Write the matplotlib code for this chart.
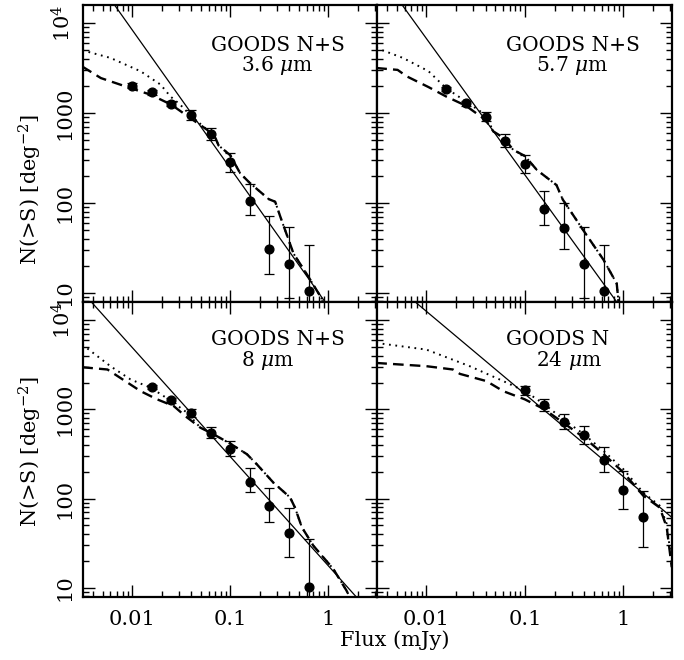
import numpy as np
import matplotlib
matplotlib.use("Agg")
import matplotlib.pyplot as plt
from matplotlib.ticker import LogLocator, NullFormatter, FixedLocator

plt.rcParams['font.family'] = ['DejaVu Serif']
plt.rcParams['mathtext.fontset'] = 'dejavuserif'

# ---- data ----
# 3.6 micron, GOODS N+S
flux36 = [0.01, 0.0158, 0.0251, 0.0398, 0.0631, 0.1, 0.158, 0.251, 0.398, 0.631]
n36 = [2020, 1700, 1270, 950, 592, 284, 104, 31, 20.7, 10.4]
lo36 = [1900, 1600, 1190, 840, 500, 222, 73, 16, 8.7, 4]
hi36 = [2150, 1800, 1360, 1070, 690, 357, 161, 72, 54, 34]
pl36_x = [0.005, 1.0]
pl36_y = [24600, 7.0]
dot36_x = [0.0031, 0.006, 0.0122, 0.0195, 0.0245, 0.0309, 0.0389, 0.058, 0.0708, 0.0759,
           0.1, 0.126, 0.157, 0.247, 0.287, 0.324, 0.441, 0.627, 0.855, 0.91]
dot36_y = [5010, 4120, 2920, 2075, 1535, 1240, 955, 652, 525, 437,
           339, 214, 168, 110, 103, 70, 27.3, 15, 8.6, 6.3]
dash36_x = [0.0031, 0.0048, 0.0096, 0.0155, 0.0251, 0.0363, 0.058, 0.0708, 0.0759,
            0.1, 0.126, 0.157, 0.247, 0.287, 0.324, 0.441, 0.627, 0.855, 0.91]
dash36_y = [3300, 2455, 1900, 1600, 1240, 933, 652, 525, 437,
            339, 214, 168, 110, 103, 70, 27.3, 15, 8.6, 6.3]

# 5.7 micron, GOODS N+S
flux57 = [0.0158, 0.0251, 0.0398, 0.0631, 0.1, 0.158, 0.251, 0.398, 0.631]
n57 = [1850, 1283, 910, 486, 274, 84.5, 52, 20.7, 10.4]
lo57 = [1760, 1210, 820, 421, 217, 56, 31, 8.7, 4]
hi57 = [1950, 1370, 1020, 578, 342, 137, 99, 54, 34]
pl57_x = [0.005, 1.0]
pl57_y = [19400, 6.2]
dot57_x = [0.0031, 0.0058, 0.0105, 0.0158, 0.0251, 0.0398, 0.0479, 0.0617, 0.0759,
           0.1, 0.132, 0.209, 0.242, 0.389, 0.631, 0.855, 0.89, 0.9]
dot57_y = [5320, 4110, 2930, 1900, 1350, 955, 624, 525, 390,
           333, 233, 158, 109, 50, 23, 12.6, 7.9, 5]
dash57_x = [0.0031, 0.0051, 0.0063, 0.0105, 0.0158, 0.0251, 0.0398, 0.0479, 0.0617, 0.0759,
            0.1, 0.132, 0.209, 0.242, 0.389, 0.631, 0.855, 0.89, 0.9]
dash57_y = [3180, 3030, 2570, 1950, 1535, 1210, 840, 624, 525, 390,
            333, 233, 158, 109, 50, 23, 12.6, 7.9, 5]

# 8 micron, GOODS N+S
flux80 = [0.0158, 0.0251, 0.0398, 0.0631, 0.1, 0.158, 0.251, 0.398, 0.631]
n80 = [1790, 1262, 902, 548, 360, 155, 82, 41, 10.3]
lo80 = [1700, 1190, 830, 474, 300, 117, 55, 22, 4]
hi80 = [1890, 1340, 1000, 632, 443, 219, 133, 79, 35]
pl80_x = [0.0035, 2.2]
pl80_y = [17900, 6.7]
dot80_x = [0.0031, 0.006, 0.0096, 0.0155, 0.0245, 0.0363, 0.0495, 0.0676, 0.1, 0.148,
           0.186, 0.275, 0.407, 0.457, 0.537, 0.703, 1.12, 1.53, 1.8]
dot80_y = [5330, 3050, 2170, 1745, 1260, 918, 624, 525, 413, 314,
           243, 151, 103, 79, 47.6, 29.6, 16.3, 9.3, 6.5]
dash80_x = [0.0031, 0.0056, 0.0122, 0.018, 0.0265, 0.0348, 0.0495, 0.0676, 0.1, 0.148,
            0.186, 0.275, 0.407, 0.457, 0.537, 0.703, 1.12, 1.53, 1.8]
dash80_y = [2970, 2800, 1600, 1294, 1090, 841, 624, 525, 413, 314,
            243, 151, 103, 79, 47.6, 29.6, 16.3, 9.3, 6.5]

# 24 micron, GOODS N
flux24 = [0.1, 0.158, 0.251, 0.398, 0.631, 1.0, 1.585]
n24 = [1630, 1109, 728, 516, 271, 124, 61.5]
lo24 = [1435, 957, 608, 413, 196, 76, 28.4]
hi24 = [1852, 1294, 880, 652, 380, 204, 122]
pl24_x = [0.007, 3.2]
pl24_y = [17500, 59.7]
dot24_x = [0.0031, 0.01, 0.0275, 0.0603, 0.1, 0.158, 0.245, 0.398, 0.631, 1.0,
           1.585, 2.34, 2.75, 3.09]
dot24_y = [5560, 4680, 3050, 2075, 1600, 1138, 773, 525, 340, 213,
           117, 83, 52, 18.6]
dash24_x = [0.0031, 0.01, 0.0186, 0.0219, 0.0407, 0.0603, 0.1, 0.158, 0.245, 0.398,
            0.631, 1.0, 1.585, 2.34, 2.75, 3.09]
dash24_y = [3315, 3050, 2800, 2500, 2075, 1600, 1294, 1000, 708, 482,
            314, 196, 108, 79, 47.5, 17]

line1 = ["GOODS N+S", "GOODS N+S", "GOODS N+S", "GOODS N"]
line2 = ["3.6 $\\mu$m", "5.7 $\\mu$m", "8 $\\mu$m", "24 $\\mu$m"]

panels = [
    (flux36, n36, lo36, hi36, pl36_x, pl36_y, dot36_x, dot36_y, dash36_x, dash36_y),
    (flux57, n57, lo57, hi57, pl57_x, pl57_y, dot57_x, dot57_y, dash57_x, dash57_y),
    (flux80, n80, lo80, hi80, pl80_x, pl80_y, dot80_x, dot80_y, dash80_x, dash80_y),
    (flux24, n24, lo24, hi24, pl24_x, pl24_y, dot24_x, dot24_y, dash24_x, dash24_y),
]

W, H = 684, 660
fig = plt.figure(figsize=(W / 100, H / 100), dpi=100)

# panel boxes in pixels: (left, top, right, bottom)
boxes = [(82.7, 5, 376.7, 302), (376.7, 5, 672, 302),
         (82.7, 302, 376.7, 597), (376.7, 302, 672, 597)]
txt_x = [(0.435, 0.537), (0.438, 0.539), (0.435, 0.537), (0.438, 0.539)]
txt_y = [(0.845, 0.777), (0.845, 0.777), (0.853, 0.782), (0.853, 0.782)]

for i, (box, p) in enumerate(zip(boxes, panels)):
    l, t, r, b = box
    ax = fig.add_axes([l / W, 1 - b / H, (r - l) / W, (b - t) / H])
    fx, n, lo, hi, plx, ply, dx, dy, sx, sy = p
    n = np.array(n)
    yerr = [n - np.array(lo), np.array(hi) - n]

    ax.plot(plx, ply, color='k', lw=0.9)
    ax.plot(dx, dy, color='k', lw=1.4, linestyle=(0, (0.9, 2.4)))
    ax.plot(sx, sy, color='k', lw=1.7, linestyle=(0, (4.5, 2.6)))
    ax.errorbar(fx, n, yerr=yerr, fmt='o', color='k', ms=6.3,
                elinewidth=0.9, capsize=3.5, capthick=0.9)

    ax.set_xscale('log')
    ax.set_yscale('log')
    ax.set_xlim(0.00313, 3.11)
    ax.set_ylim(7.87, 16000)

    ax.xaxis.set_major_locator(FixedLocator([0.01, 0.1, 1]))
    ax.xaxis.set_minor_locator(LogLocator(base=10, subs=np.arange(2, 10), numticks=20))
    ax.yaxis.set_major_locator(FixedLocator([10, 100, 1000, 10000]))
    ax.yaxis.set_minor_locator(LogLocator(base=10, subs=np.arange(2, 10), numticks=20))
    ax.xaxis.set_minor_formatter(NullFormatter())
    ax.yaxis.set_minor_formatter(NullFormatter())

    ax.tick_params(which='both', direction='in', top=True, right=True, width=1.0)
    ax.tick_params(which='major', length=8.5)
    ax.tick_params(which='minor', length=4.5)
    ax.tick_params(axis='x', which='major', pad=9.5, labelsize=15)
    ax.tick_params(axis='y', which='major', pad=6, labelsize=15)
    for s in ax.spines.values():
        s.set_linewidth(1.6)

    if i >= 2:
        ax.set_xticklabels(["0.01", "0.1", "1"])
    else:
        ax.set_xticklabels([])
    if i % 2 == 0:
        ax.set_yticklabels(["10", "100", "1000", "$10^4$"], rotation=90, va='center')
    else:
        ax.set_yticklabels([])

    ax.text(txt_x[i][0], txt_y[i][0], line1[i], transform=ax.transAxes,
            ha='left', va='baseline', fontsize=14.5)
    ax.text(txt_x[i][1], txt_y[i][1], line2[i], transform=ax.transAxes,
            ha='left', va='baseline', fontsize=14.5)

fig.text(30 / W, 1 - 190 / H, "N(>S) [deg$^{-2}$]", rotation=90,
         ha='center', va='center', fontsize=15)
fig.text(30 / W, 1 - 452 / H, "N(>S) [deg$^{-2}$]", rotation=90,
         ha='center', va='center', fontsize=15)
fig.text(395 / W, 1 - 640 / H, "Flux (mJy)", ha='center', va='center', fontsize=15)

fig.savefig("out.png", dpi=100)
